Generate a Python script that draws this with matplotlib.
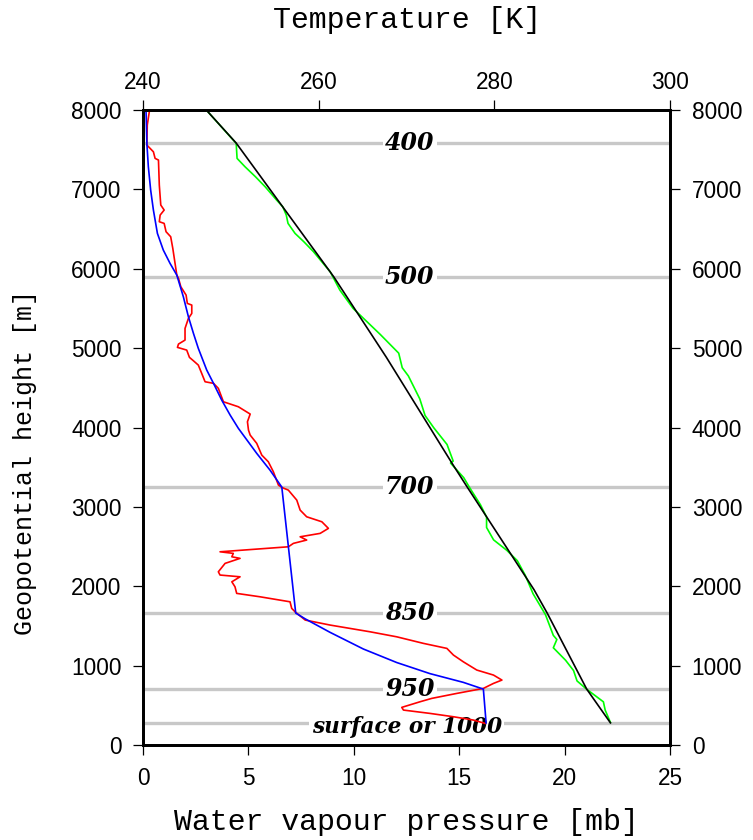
import matplotlib.pyplot as plt

# Niveles de presion (mb) y su altura geopotencial (m)
level_names = ["400", "500", "700", "850", "950", "surface or 1000"]
level_heights = [7584, 5900, 3250, 1663, 705, 280]

# Temperatura medida (verde)
temp_h = [8000, 7580, 7391, 7286, 7159, 7033, 6866, 6782, 6677, 6572, 6446, 6341,
          6215, 6068, 5963, 5732, 5502, 5173, 4937, 4754, 4650, 4361, 4152, 3996,
          3787, 3578, 3553, 3369, 3238, 3028, 2872, 2741, 2585, 2454, 2323, 2140,
          1905, 1644, 1382, 1330, 1226, 1068, 939, 808, 703, 545, 441, 285]
temp_k = [247.2, 250.6, 250.7, 251.6, 252.8, 253.9, 255.2, 255.9, 256.3, 256.5, 257.3, 258.3,
          259.4, 260.5, 261.3, 262.4, 263.9, 267.0, 269.1, 269.5, 270.2, 271.5, 272.1, 273.1,
          274.6, 275.3, 275.0, 276.5, 277.2, 278.4, 279.1, 279.1, 279.9, 281.4, 282.6, 283.5,
          284.4, 285.8, 286.7, 287.1, 286.7, 288.1, 289.0, 289.4, 290.5, 292.4, 292.6, 293.2]

# Temperatura de referencia (negro)
ref_h = [8000, 7584, 6795, 5900, 4884, 3527, 3250, 1958, 1663, 705, 280]
ref_k = [247.2, 250.6, 255.8, 261.7, 267.7, 275.3, 276.9, 284.5, 286.0, 290.5, 293.2]

# Presion de vapor modelo (azul)
model_h = [8000, 7580, 7286, 6992, 6740, 6446, 6236, 6068, 5921, 5648, 5396, 5186,
           4998, 4724, 4557, 4346, 4157, 3990, 3675, 3464, 3250,
           1663, 1590, 1420, 1210, 1040, 900, 790, 705, 280]
model_mb = [0.14, 0.18, 0.25, 0.36, 0.49, 0.68, 0.96, 1.28, 1.60, 1.91, 2.15, 2.39,
            2.62, 3.02, 3.34, 3.73, 4.13, 4.52, 5.39, 6.02, 6.58,
            7.24, 7.69, 8.87, 10.45, 12.03, 13.61, 15.19, 16.14, 16.27]

# Presion de vapor medida (rojo)
vap_h = [7987, 7811, 7559, 7474, 7391, 7370, 7055, 6803, 6740, 6677, 6593, 6572,
         6467, 6404, 6257, 5921, 5879, 5774, 5669, 5564, 5543, 5438, 5375, 5249,
         5102, 5052, 5010, 4976, 4884, 4841, 4787, 4683, 4577, 4557, 4494, 4325,
         4262, 4170, 4073, 3968, 3905, 3801, 3653, 3569, 3443, 3275, 3246, 3212,
         3086, 2960, 2876, 2813, 2730, 2667, 2624, 2583, 2541, 2498, 2435, 2415,
         2372, 2352, 2289, 2183, 2142, 2120, 2057, 1994, 1911, 1868, 1805, 1722,
         1679, 1575, 1512, 1427, 1364, 1281, 1218, 1134, 1049, 945, 882, 819,
         777, 714, 651, 588, 546, 475, 441, 399, 357, 315, 273]
vap_mb = [0.30, 0.20, 0.18, 0.49, 0.57, 0.73, 0.77, 0.84, 1.00, 0.81, 0.77, 1.00,
          1.09, 1.31, 1.41, 1.60, 1.68, 1.79, 2.04, 2.10, 2.31, 2.31, 2.15, 1.99,
          1.99, 1.68, 1.63, 2.07, 2.20, 2.39, 2.62, 2.78, 2.94, 3.34, 3.57, 3.81,
          4.52, 5.08, 4.95, 5.00, 5.08, 5.39, 5.63, 5.94, 6.18, 6.42, 6.58, 6.89,
          7.29, 7.45, 7.76, 8.48, 8.79, 8.40, 7.45, 7.76, 7.13, 6.89, 3.65, 4.28,
          4.21, 4.60, 3.89, 3.57, 3.65, 4.60, 4.21, 4.36, 4.44, 5.55, 6.97, 7.05,
          7.21, 7.69, 8.87, 10.77, 12.03, 13.30, 14.41, 14.72, 15.19, 15.83, 16.62, 17.02,
          16.62, 16.14, 14.88, 13.69, 13.14, 12.27, 12.35, 13.61, 14.72, 15.67, 16.22]

# Crear la grafica
fig = plt.figure(figsize=(7.53, 8.40), dpi=100)
ax = fig.add_axes([0.190, 0.113, 0.700, 0.756])

for h, name in zip(level_heights, level_names):
    ax.axhline(h, color="#c8c8c8", linewidth=2.4, zorder=1)
    if name.startswith("surface"):
        ax.text(12.5, h - 50, name, ha="center", va="center", fontsize=15.6,
                family="DejaVu Serif", fontweight="bold", fontstyle="italic",
                zorder=1.5, bbox=dict(facecolor="white", edgecolor="none", pad=1.5))
    else:
        ax.text(12.65, h, name, ha="center", va="center", fontsize=17,
                family="DejaVu Serif", fontweight="bold", fontstyle="italic",
                zorder=1.5, bbox=dict(facecolor="white", edgecolor="none", pad=1.5))

ax.plot(vap_mb, vap_h, color="#ff0000", linewidth=1.2, zorder=3)
ax.plot(model_mb, model_h, color="#0000ff", linewidth=1.2, zorder=4)

ax.set_xlim(0, 25)
ax.set_ylim(0, 8000)
ax.set_xticks([0, 5, 10, 15, 20, 25])
ax.set_yticks(range(0, 8001, 1000))
ax.tick_params(axis="both", direction="out", length=7.5, width=0.9, labelsize=16.3,
               right=True, labelright=True)
ax.tick_params(axis="y", pad=8)
ax.tick_params(axis="x", pad=8)
for lab in ax.get_xticklabels() + ax.get_yticklabels():
    lab.set_family("Liberation Sans")
for sp in ax.spines.values():
    sp.set_linewidth(2)

# Eje superior de temperatura
ax2 = ax.twiny()
ax2.plot(temp_k, temp_h, color="#00ff00", linewidth=1.2)
ax2.plot(ref_k, ref_h, color="black", linewidth=1.2)
ax2.set_xlim(240, 300)
ax2.set_xticks([240, 260, 280, 300])
ax2.tick_params(axis="x", direction="out", length=7.5, width=0.9, labelsize=16.3, pad=4)
for lab in ax2.get_xticklabels():
    lab.set_family("Liberation Sans")
for sp in ax2.spines.values():
    sp.set_linewidth(2)

# Titulos de los ejes
fig.text(0.540, 0.976, "Temperature [K]", ha="center", va="center",
         family="Liberation Mono", fontsize=21.5)
fig.text(0.540, 0.021, "Water vapour pressure [mb]", ha="center", va="center",
         family="Liberation Mono", fontsize=21.5)
fig.text(0.0332, 0.449, "Geopotential height [m]", ha="center", va="center",
         rotation=90, family="Liberation Mono", fontsize=18)

plt.savefig("out.png", dpi=100)
